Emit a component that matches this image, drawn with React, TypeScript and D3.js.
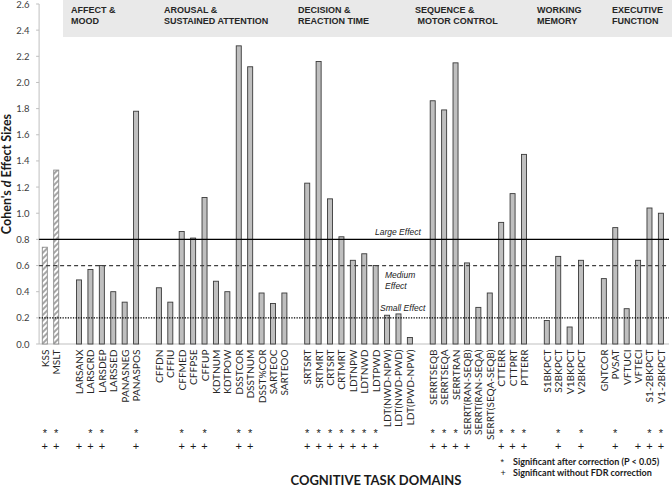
import React from "react";
import * as d3 from "d3";

// ---------- DATA ----------
const categories: string[] = [
  "KSS", "MSLT",
  "LARSANX", "LARSCRD", "LARSDEP", "LARSSED", "PANASNEG", "PANASPOS",
  "CFFDN", "CFFIU", "CFFMED", "CFFPSE", "CFFUP", "KDTNUM", "KDTPOW", "DSSTCOR", "DSSTNUM", "DSST%COR", "SARTEOC", "SARTEOO",
  "SRTSRT", "SRTMRT", "CRTSRT", "CRTMRT", "LDTNPW", "LDTNWD", "LDTPWD", "LDT(NWD-NPW)", "LDT(NWD-PWD)", "LDT(PWD-NPW)",
  "SERRTSEQB", "SERRTSEQA", "SERRTRAN", "SERRT(RAN-SEQB)", "SERRT(RAN-SEQA)", "SERRT(SEQA-SEQB)", "CTTERR", "CTTPRT", "PTTERR",
  "S1BKPCT", "S2BKPCT", "V1BKPCT", "V2BKPCT",
  "GNTCOR", "PVSAT", "VFTUCI", "VFTECI", "S1-2BKPCT", "V1-2BKPCT",
];

const effectSizes: number[] = [
  0.74, 1.33,
  0.49, 0.57, 0.60, 0.40, 0.32, 1.78,
  0.43, 0.32, 0.86, 0.81, 1.12, 0.48, 0.40, 2.28, 2.12, 0.39, 0.31, 0.39,
  1.23, 2.16, 1.11, 0.82, 0.64, 0.69, 0.60, 0.22, 0.23, 0.05,
  1.86, 1.79, 2.15, 0.62, 0.28, 0.39, 0.93, 1.15, 1.45,
  0.18, 0.67, 0.13, 0.64,
  0.50, 0.89, 0.27, 0.64, 1.04, 1.00,
];

// categories followed by an empty slot
const gapsAfter: string[] = ["MSLT", "PANASPOS", "SARTEOO", "LDT(PWD-NPW)", "PTTERR", "V2BKPCT"];

const hatchedTests: string[] = ["KSS", "MSLT"];

const sigAfterCorrection: string[] = [
  "KSS", "MSLT", "LARSCRD", "LARSDEP", "PANASPOS", "CFFMED", "CFFUP", "DSSTCOR", "DSSTNUM",
  "SRTSRT", "SRTMRT", "CRTSRT", "CRTMRT", "LDTNPW", "LDTNWD", "LDTPWD",
  "SERRTSEQB", "SERRTSEQA", "SERRTRAN", "CTTERR", "CTTPRT", "PTTERR",
  "S2BKPCT", "V2BKPCT", "PVSAT", "S1-2BKPCT", "V1-2BKPCT",
];

const sigUncorrected: string[] = [
  "KSS", "MSLT", "LARSANX", "LARSCRD", "LARSDEP", "PANASPOS", "CFFMED", "CFFPSE", "CFFUP", "DSSTCOR", "DSSTNUM",
  "SRTSRT", "SRTMRT", "CRTSRT", "CRTMRT", "LDTNPW", "LDTNWD", "LDTPWD",
  "SERRTSEQB", "SERRTSEQA", "SERRTRAN", "SERRT(RAN-SEQB)", "CTTERR", "CTTPRT", "PTTERR",
  "S2BKPCT", "V2BKPCT", "PVSAT", "VFTECI", "S1-2BKPCT", "V1-2BKPCT",
];

const domainLabels: string[][] = [
  ["AFFECT &", "MOOD"],
  ["AROUSAL &", "SUSTAINED ATTENTION"],
  ["DECISION &", "REACTION TIME"],
  ["SEQUENCE &", " MOTOR CONTROL"],
  ["WORKING", "MEMORY"],
  ["EXECUTIVE", "FUNCTION"],
];

const yTicks: number[] = [0, 0.2, 0.4, 0.6, 0.8, 1.0, 1.2, 1.4, 1.6, 1.8, 2.0, 2.2, 2.4, 2.6];

const effectLines: { value: number; label: string[] }[] = [
  { value: 0.8, label: ["Large Effect"] },
  { value: 0.6, label: ["Medium", "Effect"] },
  { value: 0.2, label: ["Small Effect"] },
];

const yTitle = "Cohen's ";
const xTitle = "COGNITIVE TASK DOMAINS";
const legendItems: string[][] = [
  ["*", "Significant after correction (P < 0.05)"],
  ["+", "Significant without FDR correction"],
];

// ---------- LAYOUT ----------
const W = 672;
const H = 487;
const plotLeft = 39.1;
const plotRight = 666.6;
const lineRight = 669;
const yTop = 4;
const yBottom = 344;
const headerX = [71, 164, 298, 415, 537, 612];
const effectLabelPos = [
  { x: 375, y: 235 },
  { x: 385, y: 278 },
  { x: 380, y: 311 },
];

const CAL = "Lato, 'Open Sans', sans-serif";
const ARIAL = "'Liberation Sans', Arial, sans-serif";

export default function App() {
  // build slot keys including empty gap slots
  const slots: string[] = [];
  categories.forEach((c) => {
    slots.push(c);
    if (gapsAfter.includes(c)) slots.push("__gap_" + c);
  });
  const x = d3.scaleBand<string>().domain(slots).range([plotLeft, plotRight]).paddingInner(0).paddingOuter(0);
  const y = d3.scaleLinear().domain([0, 2.6]).range([yBottom, yTop]);
  const bw = x.bandwidth() * 0.44;
  const cx = (c: string) => (x(c) as number) + x.bandwidth() / 2;

  return (
    <svg
      width={W}
      height={H}
      style={{ position: "absolute", left: 0, top: 0, background: "#fff" }}
      xmlns="http://www.w3.org/2000/svg"
    >
      <defs>
        <pattern id="hatch" patternUnits="userSpaceOnUse" width="4" height="4" patternTransform="rotate(-45)">
          <rect width="4" height="4" fill="#ffffff" />
          <rect width="4" height="2" fill="#a6a6a6" />
        </pattern>
      </defs>
      <rect x={0} y={0} width={W} height={H} fill="#fff" />

      {/* header band */}
      <rect x={63} y={0} width={W - 63} height={37} fill="#e9e9e9" />
      {domainLabels.map((lines, i) => (
        <text key={i} x={headerX[i]} y={12.8} fontFamily={ARIAL} fontWeight="bold" fontSize={9} fill="#262626">
          {lines.map((l, j) => (
            <tspan key={j} x={headerX[i]} dy={j === 0 ? 0 : 10.8} style={{ whiteSpace: "pre" }}>
              {l}
            </tspan>
          ))}
        </text>
      ))}

      {/* y axis */}
      <line x1={plotLeft} x2={plotLeft} y1={yTop} y2={yBottom} stroke="#bfbfbf" strokeWidth={1} />
      {yTicks.map((t) => (
        <g key={t}>
          <line x1={plotLeft - 3} x2={plotLeft} y1={y(t)} y2={y(t)} stroke="#bfbfbf" />
          <text
            x={29.5}
            y={y(t)}
            textAnchor="end"
            dominantBaseline="central"
            fontFamily={CAL}
            fontSize={9.5}
            fill="#404040"
          >
            {t.toFixed(1)}
          </text>
        </g>
      ))}
      <text
        transform={`translate(10.5, 174) rotate(-90)`}
        textAnchor="middle"
        fontFamily={CAL}
        fontWeight="bold"
        fontSize={12.5}
        fill="#1a1a1a"
      >
        {yTitle}
        <tspan fontStyle="italic">d</tspan> Effect Sizes
      </text>

      {/* x baseline */}
      <line x1={plotLeft} x2={lineRight} y1={yBottom} y2={yBottom} stroke="#bfbfbf" strokeWidth={1} />

      {/* bars */}
      {categories.map((c, i) => (
        <rect
          key={c}
          x={cx(c) - bw / 2}
          y={y(effectSizes[i])}
          width={bw}
          height={yBottom - y(effectSizes[i])}
          fill={hatchedTests.includes(c) ? "url(#hatch)" : "#bfbfbf"}
          stroke={hatchedTests.includes(c) ? "#8c8c8c" : "#3a3a3a"}
          strokeWidth={0.9}
        />
      ))}

      {/* effect lines */}
      <line x1={plotLeft} x2={lineRight} y1={y(0.8)} y2={y(0.8)} stroke="#000" strokeWidth={1.3} />
      <line x1={plotLeft} x2={lineRight} y1={y(0.6)} y2={y(0.6)} stroke="#404040" strokeWidth={1.3} strokeDasharray="4,3" />
      <line x1={plotLeft} x2={lineRight} y1={y(0.2)} y2={y(0.2)} stroke="#000" strokeWidth={1.3} strokeDasharray="1.3,1.3" />
      {effectLines.map((e, i) => (
        <text key={i} x={effectLabelPos[i].x} y={effectLabelPos[i].y} fontFamily={ARIAL} fontStyle="italic" fontSize={8.5} fill="#1a1a1a">
          {e.label.map((l, j) => (
            <tspan key={j} x={effectLabelPos[i].x} dy={j === 0 ? 0 : 11}>
              {l}
            </tspan>
          ))}
        </text>
      ))}

      {/* category labels */}
      {categories.map((c) => (
        <text
          key={c}
          transform={`translate(${cx(c)}, 349.5) rotate(-90)`}
          textAnchor="end"
          dominantBaseline="central"
          fontFamily={CAL}
          fontSize={10.1}
          fill="#262626"
        >
          {c}
        </text>
      ))}

      {/* significance markers */}
      {categories.map((c) =>
        sigAfterCorrection.includes(c) ? (
          <text key={"s" + c} x={cx(c)} y={436.5} textAnchor="middle" fontFamily={ARIAL} fontSize={11} fill="#1a1a1a">
            *
          </text>
        ) : null
      )}
      {categories.map((c) =>
        sigUncorrected.includes(c) ? (
          <text key={"p" + c} x={cx(c)} y={449.6} textAnchor="middle" fontFamily={ARIAL} fontSize={11} fill="#1a1a1a">
            +
          </text>
        ) : null
      )}

      {/* legend */}
      {legendItems.map((it, i) => (
        <text key={i} y={465.3 + i * 10.9} fontFamily={CAL} fontSize={9} fontWeight="bold" fill="#1a1a1a">
          <tspan x={500.5} fontFamily={ARIAL} fontWeight="normal">
            {it[0]}
          </tspan>
          <tspan x={513}>{it[1]}</tspan>
        </text>
      ))}

      {/* x title */}
      <text x={376} y={485} textAnchor="middle" fontFamily={CAL} fontWeight="bold" fontSize={13} fill="#1a1a1a">
        {xTitle}
      </text>
    </svg>
  );
}
